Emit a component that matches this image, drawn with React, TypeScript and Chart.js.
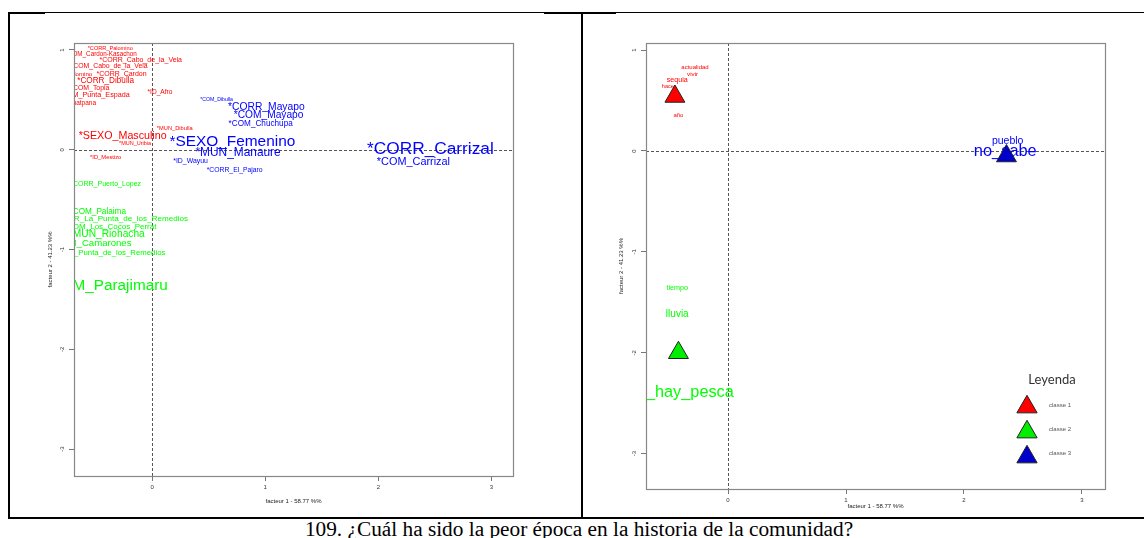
import React, { useEffect, useRef } from 'react';
import { Chart, registerables } from 'chart.js';

Chart.register(...registerables);
Chart.defaults.font.family = '"Liberation Sans", Arial, sans-serif';

// ---------- Left panel: modalities (AFC) ----------
const modLabels = [
  '*CORR_Palomino', '*COM_Cardon-Kasachon', '*CORR_Cabo_de_la_Vela', '*COM_Cabo_de_la_Vela',
  '*COM_Palomino', '*CORR_Cardon', '*CORR_Dibulla', '*COM_Topia', '*COM_Punta_Espada',
  '*COM_Wuatpana', '*ID_Afro', '*SEXO_Masculino', '*MUN_Uribia', '*ID_Mestizo', '*MUN_Dibulla',
  '*COM_Dibulla', '*CORR_Mayapo', '*COM_Mayapo', '*COM_Chuchupa', '*SEXO_Femenino',
  '*MUN_Manaure', '*ID_Wayuu', '*CORR_El_Pajaro', '*CORR_Carrizal', '*COM_Carrizal',
  '*CORR_Puerto_Lopez', '*COM_Palaima', '*CORR_La_Punta_de_los_Remedios', '*COM_Los_Cocos_Perrat',
  '*MUN_Riohacha', '*COM_Camarones', '*COM_Punta_de_los_Remedios', '*COM_Parajimaru',
];
const modX = [
  -0.37, -0.45, -0.10, -0.38, -0.73, -0.27, -0.41, -0.55, -0.51, -0.72, 0.07, -0.26, -0.15, -0.41, 0.20,
  0.57, 1.01, 1.03, 0.96, 0.71, 0.76, 0.34, 0.73, 2.46, 2.31,
  -0.41, -0.48, -0.28, -0.37, -0.40, -0.54, -0.38, -0.41,
];
const modY = [
  1.02, 0.96, 0.90, 0.84, 0.76, 0.76, 0.69, 0.62, 0.55, 0.47, 0.58, 0.14, 0.06, -0.08, 0.21,
  0.50, 0.43, 0.35, 0.26, 0.08, -0.03, -0.11, -0.20, 0.01, -0.12,
  -0.34, -0.62, -0.69, -0.77, -0.85, -0.94, -1.03, -1.36,
];
const modChi2 = [
  1.2, 2.6, 4.0, 3.8, 2.2, 4.0, 6.4, 3.8, 4.4, 3.0, 3.2, 11.4, 1.0, 1.6, 1.4,
  0.4, 10.6, 10.4, 6.4, 20.8, 13.8, 3.8, 3.6, 24.6, 11.8,
  4.0, 6.4, 6.2, 6.0, 10.4, 9.2, 5.6, 20.6,
];
const modClass = [
  1, 1, 1, 1, 1, 1, 1, 1, 1, 1, 1, 1, 1, 1, 1,
  3, 3, 3, 3, 3, 3, 3, 3, 3, 3,
  2, 2, 2, 2, 2, 2, 2, 2,
];

// ---------- Right panel: words ----------
const wordLabels = ['actualidad', 'vivir', 'sequia', 'hace', 'año', 'pueblo', 'no_sabe', 'tiempo', 'lluvia', 'no_hay_pesca'];
const wordX = [-0.28, -0.30, -0.43, -0.51, -0.42, 2.37, 2.35, -0.43, -0.43, -0.40];
const wordY = [0.83, 0.76, 0.70, 0.64, 0.35, 0.10, -0.01, -1.36, -1.62, -2.39];
const wordChi2 = [2.0, 2.4, 4.2, 1.0, 2.0, 11.0, 22.8, 4.4, 10.0, 22.6];
const wordClass = [1, 1, 1, 1, 1, 3, 3, 2, 2, 2];

// class centroids (triangles)
const classNames = ['classe 1', 'classe 2', 'classe 3'];
const classX = [-0.45, -0.42, 2.36];
const classY = [0.54, -2.0, -0.05];

const xTicks = [0, 1, 2, 3];
const yTicks = [-3, -2, -1, 0, 1];
const xTitle = 'facteur 1 - 58.77 %%';
const yTitle = 'facteur 2 - 41.23 %%';
const legendTitle = 'Leyenda';
const caption = '109. ¿Cuál ha sido la peor época en la historia de la comunidad?';

const textColors = ['#ff0000', '#00ff00', '#0000ff'];
const markerColors = ['#ff0000', '#00ee00', '#0000cc'];
const FONT = '"Liberation Sans", Arial, sans-serif';

type PanelProps = {
  labels: string[]; xs: number[]; ys: number[]; chi2: number[]; cls: number[];
  markers: boolean;
  xMin: number; xMax: number; yMin: number; yMax: number;
  left: number; top: number; w: number; h: number;
  pad: { top: number; right: number; bottom: number; left: number };
  xAxisH: number; yAxisW: number; yTitlePad: number; xTitlePad: number;
};

function triangle(ctx: CanvasRenderingContext2D, cx: number, cy: number, r: number, fill: string) {
  const s = Math.sin(Math.PI / 3) * r;
  ctx.beginPath();
  ctx.moveTo(cx, cy - r);
  ctx.lineTo(cx + s, cy + r / 2);
  ctx.lineTo(cx - s, cy + r / 2);
  ctx.closePath();
  ctx.fillStyle = fill;
  ctx.fill();
  ctx.lineWidth = 1;
  ctx.strokeStyle = '#222';
  ctx.stroke();
}

function Panel(p: PanelProps) {
  const ref = useRef<HTMLCanvasElement>(null);
  useEffect(() => {
    const canvas = ref.current!;
    const datasets: any[] = [1, 2, 3].map((c) => ({
      label: 'text' + c,
      isText: true,
      textColor: textColors[c - 1],
      data: p.labels
        .map((t, i) => ({ x: p.xs[i], y: p.ys[i], t, chi2: p.chi2[i], c: p.cls[i] }))
        .filter((d) => d.c === c),
      pointRadius: 0,
      pointHoverRadius: 0,
    }));
    if (p.markers) {
      datasets.push({
        label: 'classes',
        data: classX.map((x, i) => ({ x, y: classY[i] })),
        pointStyle: 'triangle',
        pointRadius: 11.5,
        backgroundColor: markerColors,
        borderColor: '#222',
        borderWidth: 1,
      });
    }

    const textPlugin = {
      id: 'textPlugin',
      beforeDatasetsDraw(chart: any) {
        const { ctx, chartArea: a, scales } = chart;
        ctx.save();
        ctx.beginPath();
        ctx.rect(a.left, a.top, a.right - a.left, a.bottom - a.top);
        ctx.clip();
        // zero lines
        ctx.setLineDash([3, 2]);
        ctx.strokeStyle = '#555';
        ctx.lineWidth = 1;
        const x0 = Math.round(scales.x.getPixelForValue(0)) + 0.5;
        const y0 = Math.round(scales.y.getPixelForValue(0)) + 0.5;
        ctx.beginPath();
        ctx.moveTo(x0, a.top); ctx.lineTo(x0, a.bottom);
        ctx.moveTo(a.left, y0); ctx.lineTo(a.right, y0);
        ctx.stroke();
        ctx.setLineDash([]);
        // labels
        ctx.textAlign = 'center';
        ctx.textBaseline = 'middle';
        chart.data.datasets.forEach((ds: any) => {
          if (!ds.isText) return;
          ctx.fillStyle = ds.textColor;
          ds.data.forEach((d: any) => {
            const px = scales.x.getPixelForValue(d.x);
            const py = scales.y.getPixelForValue(d.y);
            ctx.font = `${5 + d.chi2 / 2}px ${FONT}`;
            ctx.fillText(d.t, px, py);
          });
        });
        ctx.restore();
      },
      afterDraw(chart: any) {
        const { ctx, chartArea: a } = chart;
        ctx.save();
        ctx.strokeStyle = '#888';
        ctx.lineWidth = 1.2;
        ctx.strokeRect(a.left + 0.5, a.top + 0.5, a.right - a.left, a.bottom - a.top);
        if (p.markers) {
          ctx.textAlign = 'center';
          ctx.textBaseline = 'middle';
          ctx.fillStyle = '#333';
          ctx.font = '13px Lato, "Liberation Sans", sans-serif';
          ctx.fillText(legendTitle, a.right - 53, a.bottom - 109);
          const triY = [82, 57, 32];
          const txtY = [84, 60, 36];
          classNames.forEach((n, i) => {
            triangle(ctx, a.right - 78, a.bottom - triY[i], 11.7, markerColors[i]);
            ctx.fillStyle = '#555';
            ctx.font = `6px ${FONT}`;
            ctx.fillText(n, a.right - 45, a.bottom - txtY[i]);
          });
        }
        ctx.restore();
      },
    };

    const tickFont = { size: 6, family: FONT };
    const chart = new Chart(canvas, {
      type: 'scatter',
      data: { datasets },
      options: {
        responsive: false,
        animation: false,
        devicePixelRatio: 1,
        events: [],
        layout: { padding: p.pad },
        plugins: { legend: { display: false }, tooltip: { enabled: false } },
        scales: {
          x: {
            type: 'linear', min: p.xMin, max: p.xMax,
            afterBuildTicks: (s: any) => { s.ticks = xTicks.map((v) => ({ value: v })); },
            afterFit: (s: any) => { s.height = p.xAxisH; },
            grid: { drawOnChartArea: false, drawTicks: true, tickLength: 5, color: '#777', lineWidth: 1 },
            border: { display: false },
            ticks: { autoSkip: false, minRotation: 0, maxRotation: 0, padding: 3, font: tickFont, color: '#333', callback: (v: any) => String(v) },
            title: { display: true, text: xTitle, font: tickFont, color: '#222', padding: { top: 0, bottom: p.xTitlePad } },
          },
          y: {
            type: 'linear', min: p.yMin, max: p.yMax,
            afterBuildTicks: (s: any) => { s.ticks = yTicks.map((v) => ({ value: v })); },
            afterFit: (s: any) => { s.width = p.yAxisW; },
            grid: { drawOnChartArea: false, drawTicks: true, tickLength: 5, color: '#777', lineWidth: 1 },
            border: { display: false },
            ticks: { autoSkip: false, minRotation: 90, maxRotation: 90, crossAlign: 'center', padding: 4, font: tickFont, color: '#333', callback: (v: any) => String(v) },
            title: { display: true, text: yTitle, font: tickFont, color: '#222', padding: { top: p.yTitlePad, bottom: 0 } },
          },
        },
      } as any,
      plugins: [textPlugin],
    });
    return () => chart.destroy();
  }, []);
  return (
    <canvas
      ref={ref}
      width={p.w}
      height={p.h}
      style={{ position: 'absolute', left: p.left, top: p.top, width: p.w, height: p.h }}
    />
  );
}

const line = (left: number, top: number, width: number, height: number) => (
  <div style={{ position: 'absolute', left, top, width, height, background: '#000' }} />
);

export default function App() {
  return (
    <div style={{ position: 'absolute', left: 0, top: 0, width: 1144, height: 538, overflow: 'hidden', background: '#fff' }}>
      {line(8, 12, 1136, 1)}
      {line(8, 12, 37, 2)}
      {line(544, 12, 72, 2)}
      {line(8, 12, 2, 507)}
      {line(581, 12, 2, 507)}
      {line(8, 517, 1136, 2)}
      <Panel
        labels={modLabels} xs={modX} ys={modY} chi2={modChi2} cls={modClass} markers={false}
        xMin={-0.69} xMax={3.19} yMin={-3.27} yMax={1.07}
        left={14} top={30} w={506} h={484}
        pad={{ top: 13, right: 7, bottom: 2, left: 0 }}
        xAxisH={36} yAxisW={60} yTitlePad={32.4} xTitlePad={7.4}
      />
      <Panel
        labels={wordLabels} xs={wordX} ys={wordY} chi2={wordChi2} cls={wordClass} markers={true}
        xMin={-0.695} xMax={3.195} yMin={-3.35} yMax={1.07}
        left={586} top={30} w={540} h={484}
        pad={{ top: 13, right: 21, bottom: 3, left: 0 }}
        xAxisH={22} yAxisW={60} yTitlePad={31.4} xTitlePad={1.5}
      />
      <div
        style={{
          position: 'absolute', left: 0, width: 1158, top: 519, textAlign: 'center',
          fontFamily: '"Liberation Serif", "Times New Roman", serif', fontSize: 21.3, lineHeight: '21.3px',
          whiteSpace: 'nowrap', color: '#000',
        }}
      >
        {caption}
      </div>
    </div>
  );
}
